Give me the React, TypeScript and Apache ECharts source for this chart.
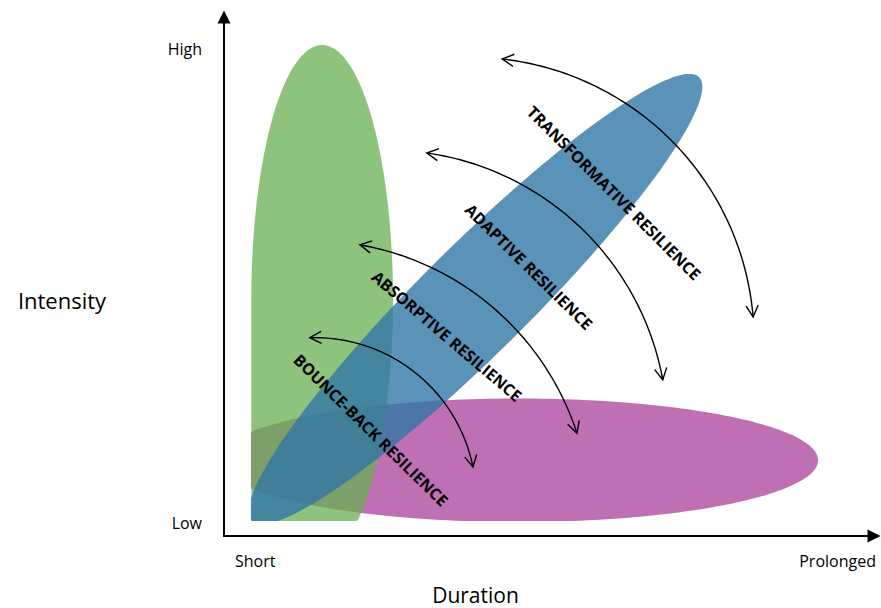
import React, { useEffect, useRef } from 'react';
import * as echarts from 'echarts';

const FONT = '"Open Sans", "Noto Sans", "DejaVu Sans", sans-serif';

// Axis tick labels (data space: Duration 0–100 on x, Intensity 0–100 on y)
const durationTicks = ['Short', 'Prolonged'];
const durationTickValues = [4.8, 94.4];
const intensityTicks = ['Low', 'High'];
const intensityTickValues = [2.6, 93.8];
const axisTitles = ['Duration', 'Intensity'];

// shaded regions are cut at these data values
const clipLeft = 4.15;
const clipBottom = 2.9;

// axis-aligned ellipses: [centre x, centre y, half width, half height]
const shortIntenseRegion = [15.1, 45.5, 10.9, 49.1]; // green
const prolongedMildRegion = [45.2, 14.6, 46.2, 11.9]; // magenta
// diagonal ellipse: [tip x, tip y, far end x, far end y, half-width / half-length]
const escalatingRegion = [4.3, 2.9, 73.1, 88.4, 0.172]; // blue

// resilience types, label centres and angles
const resilienceTypes = ['BOUNCE-BACK RESILIENCE', 'ABSORPTIVE RESILIENCE', 'ADAPTIVE RESILIENCE', 'TRANSFORMATIVE RESILIENCE'];
const labelX = [22.6, 34.3, 46.9, 60.0];
const labelY = [20.4, 38.5, 51.9, 66.1];
const labelAngle = [44.5, 40.5, 44.6, 45];

// double-headed arrows: [start x, start y, through x, through y, end x, end y]
const bounceBackArc = [13.2, 38.2, 33.2, 26.8, 38.3, 13.3];
const absorptiveArc = [20.9, 56.1, 43.5, 41.6, 54.3, 19.8];
const adaptiveArc = [31.2, 73.8, 54.8, 59.5, 67.5, 30.1];
const transformativeArc = [42.8, 91.9, 70.2, 74.4, 81.4, 42.2];

const GREEN = 'rgba(103,175,82,0.75)';
const BLUE = 'rgba(50,119,165,0.8)';
const MAGENTA = 'rgb(191,112,181)';

function nearest(values: number[], v: number) {
  let best = 0;
  values.forEach((x, i) => {
    if (Math.abs(x - v) < Math.abs(values[best] - v)) best = i;
  });
  return best;
}

function clipBounds(api: any) {
  return {
    left: api.coord([clipLeft, 0])[0],
    bottom: api.coord([0, clipBottom])[1],
  };
}

function ellipseSeries(name: string, row: number[], color: string, squareLowerLeft: boolean) {
  return {
    type: 'custom',
    name,
    silent: true,
    data: [row],
    renderItem: (_p: any, api: any) => {
      const c = api.coord([api.value(0), api.value(1)]);
      const s = api.size([api.value(2), api.value(3)]);
      const b = clipBounds(api);
      const pts: number[][] = [];
      const N = 240;
      for (let i = 0; i < N; i++) {
        const t = (i / N) * Math.PI * 2;
        const ct = Math.cos(t);
        const st = Math.sin(t);
        let x = c[0] + s[0] * ct;
        const y = c[1] + s[1] * st;
        if (squareLowerLeft && ct < 0 && st > 0) x = c[0] - s[0];
        pts.push([Math.max(x, b.left), Math.min(y, b.bottom)]);
      }
      return { type: 'polygon', shape: { points: pts }, style: { fill: color } };
    },
  };
}

function tiltedSeries(name: string, row: number[], color: string) {
  return {
    type: 'custom',
    name,
    silent: true,
    data: [row],
    renderItem: (_p: any, api: any) => {
      const p1 = api.coord([api.value(0), api.value(1)]);
      const p2 = api.coord([api.value(2), api.value(3)]);
      const ratio = api.value(4);
      const cx = (p1[0] + p2[0]) / 2;
      const cy = (p1[1] + p2[1]) / 2;
      const dx = p2[0] - p1[0];
      const dy = p2[1] - p1[1];
      const len = Math.hypot(dx, dy);
      const a = len / 2;
      const bb = a * ratio;
      const ux = dx / len;
      const uy = dy / len;
      const vx = -uy;
      const vy = ux;
      const b = clipBounds(api);
      const pts: number[][] = [];
      const N = 240;
      for (let i = 0; i < N; i++) {
        const t = (i / N) * Math.PI * 2;
        const x = cx + a * Math.cos(t) * ux + bb * Math.sin(t) * vx;
        const y = cy + a * Math.cos(t) * uy + bb * Math.sin(t) * vy;
        pts.push([Math.max(x, b.left), Math.min(y, b.bottom)]);
      }
      return { type: 'polygon', shape: { points: pts }, style: { fill: color } };
    },
  };
}

function circleThrough(A: number[], B: number[], C: number[]) {
  const [ax, ay] = A;
  const [bx, by] = B;
  const [cx, cy] = C;
  const d = 2 * (ax * (by - cy) + bx * (cy - ay) + cx * (ay - by));
  const a2 = ax * ax + ay * ay;
  const b2 = bx * bx + by * by;
  const c2 = cx * cx + cy * cy;
  const ux = (a2 * (by - cy) + b2 * (cy - ay) + c2 * (ay - by)) / d;
  const uy = (a2 * (cx - bx) + b2 * (ax - cx) + c2 * (bx - ax)) / d;
  return { ux, uy, r: Math.hypot(ax - ux, ay - uy) };
}

const STROKE = { stroke: '#000', lineWidth: 1.4, fill: 'none' };

function arrowHead(tip: number[], dir: number[]) {
  const L = 13;
  const phi = (28 * Math.PI) / 180;
  const bx = -dir[0];
  const by = -dir[1];
  const rot = (ang: number) => [bx * Math.cos(ang) - by * Math.sin(ang), bx * Math.sin(ang) + by * Math.cos(ang)];
  const a1 = rot(phi);
  const a2 = rot(-phi);
  return {
    type: 'polyline',
    shape: { points: [[tip[0] + L * a1[0], tip[1] + L * a1[1]], tip, [tip[0] + L * a2[0], tip[1] + L * a2[1]]] },
    style: STROKE,
  };
}

const TAU = Math.PI * 2;
const norm = (a: number) => ((a % TAU) + TAU) % TAU;

const arcSeries = {
  type: 'custom',
  name: 'arrows',
  silent: true,
  data: [bounceBackArc, absorptiveArc, adaptiveArc, transformativeArc],
  renderItem: (_p: any, api: any) => {
    const s = api.coord([api.value(0), api.value(1)]);
    const m = api.coord([api.value(2), api.value(3)]);
    const e = api.coord([api.value(4), api.value(5)]);
    const { ux, uy, r } = circleThrough(s, m, e);
    const a0 = Math.atan2(s[1] - uy, s[0] - ux);
    const am = Math.atan2(m[1] - uy, m[0] - ux);
    const a1 = Math.atan2(e[1] - uy, e[0] - ux);
    const d1 = norm(a1 - a0);
    const dm = norm(am - a0);
    const sweep = dm < d1 ? d1 : d1 - TAU;
    const sign = sweep > 0 ? 1 : -1;
    const pts: number[][] = [];
    const N = 80;
    for (let i = 0; i <= N; i++) {
      const th = a0 + (sweep * i) / N;
      pts.push([ux + r * Math.cos(th), uy + r * Math.sin(th)]);
    }
    const startDir = [sign * Math.sin(a0), -sign * Math.cos(a0)];
    const endDir = [-sign * Math.sin(a1), sign * Math.cos(a1)];
    return {
      type: 'group',
      children: [
        { type: 'polyline', shape: { points: pts }, style: STROKE },
        arrowHead(s, startDir),
        arrowHead(e, endDir),
      ],
    };
  },
};

const labelSeries = {
  type: 'custom',
  name: 'labels',
  silent: true,
  data: resilienceTypes.map((_, i) => [labelX[i], labelY[i], labelAngle[i]]),
  renderItem: (params: any, api: any) => {
    const c = api.coord([api.value(0), api.value(1)]);
    return {
      type: 'text',
      x: c[0],
      y: c[1],
      rotation: (-api.value(2) * Math.PI) / 180,
      style: {
        text: resilienceTypes[params.dataIndex],
        fill: '#000',
        fontSize: 16,
        fontWeight: 'bold',
        fontFamily: FONT,
        textAlign: 'center',
        textVerticalAlign: 'middle',
        align: 'center',
        verticalAlign: 'middle',
      },
    };
  },
};

const axisArrow = 'path://M5,0 L10,10 L0,10 Z';

export default function App() {
  const ref = useRef<HTMLDivElement>(null);
  useEffect(() => {
    if (!ref.current) return;
    const chart = echarts.init(ref.current, undefined, { renderer: 'svg' });
    chart.setOption({
      animation: false,
      backgroundColor: '#fff',
      textStyle: { fontFamily: FONT },
      grid: { left: 224, top: 17, width: 650, height: 519, outerBoundsMode: 'none', containLabel: false },
      xAxis: {
        type: 'value',
        min: 0,
        max: 100,
        axisLine: { show: true, symbol: ['none', axisArrow], symbolSize: [13, 14], lineStyle: { color: '#000', width: 2 } },
        axisTick: { show: false },
        splitLine: { show: false },
        axisLabel: {
          customValues: durationTickValues,
          formatter: (v: number) => durationTicks[nearest(durationTickValues, v)],
          margin: 17,
          fontSize: 16,
          color: '#000',
          fontFamily: FONT,
        },
      },
      yAxis: {
        type: 'value',
        min: 0,
        max: 100,
        axisLine: { show: true, symbol: ['none', axisArrow], symbolSize: [13, 14], lineStyle: { color: '#000', width: 2 } },
        axisTick: { show: false },
        splitLine: { show: false },
        axisLabel: {
          customValues: intensityTickValues,
          formatter: (v: number) => intensityTicks[nearest(intensityTickValues, v)],
          margin: 22,
          fontSize: 16,
          color: '#000',
          fontFamily: FONT,
        },
      },
      graphic: [
        {
          type: 'text',
          x: 62,
          y: 300,
          style: { text: axisTitles[1], fontSize: 22, fontFamily: FONT, fill: '#000', textAlign: 'center', textVerticalAlign: 'middle', align: 'center', verticalAlign: 'middle' },
        },
        {
          type: 'text',
          x: 475.5,
          y: 595,
          style: { text: axisTitles[0], fontSize: 21, fontFamily: FONT, fill: '#000', textAlign: 'center', textVerticalAlign: 'middle', align: 'center', verticalAlign: 'middle' },
        },
      ],
      series: [
        ellipseSeries('prolonged', prolongedMildRegion, MAGENTA, false),
        ellipseSeries('short', shortIntenseRegion, GREEN, true),
        tiltedSeries('escalating', escalatingRegion, BLUE),
        arcSeries,
        labelSeries,
      ],
    });
    return () => chart.dispose();
  }, []);
  return <div ref={ref} style={{ position: 'absolute', left: 0, top: 0, width: 881, height: 608 }} />;
}
